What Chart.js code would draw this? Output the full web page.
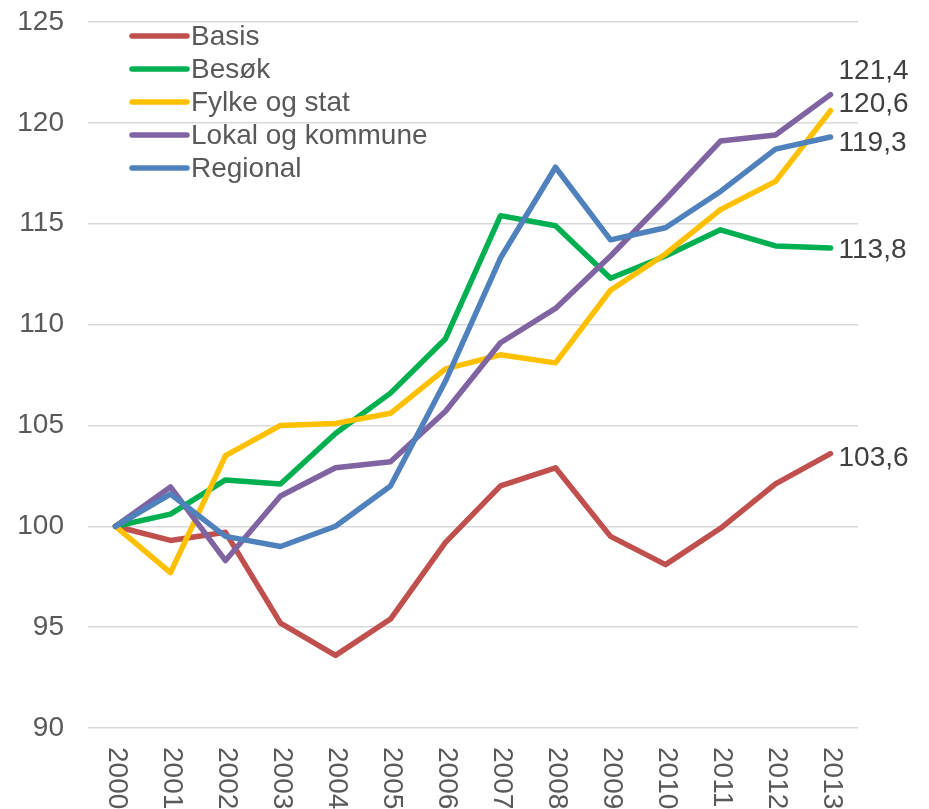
<!DOCTYPE html>
<html>
<head>
<meta charset="utf-8">
<script src="https://cdn.jsdelivr.net/npm/chart.js@4/dist/chart.umd.min.js"></script>
<style>
html,body{margin:0;padding:0;background:#fff;}
canvas{display:block;}
</style>
</head>
<body>
<canvas id="c" width="929" height="809"></canvas>
<script>
const years = ["2000","2001","2002","2003","2004","2005","2006","2007","2008","2009","2010","2011","2012","2013"];
const basis    = [100, 99.3, 99.7, 95.2, 93.6, 95.4, 99.2, 102.0, 102.9, 99.5, 98.1, 99.9, 102.1, 103.6];
const besok    = [100, 100.6, 102.3, 102.1, 104.6, 106.6, 109.3, 115.4, 114.9, 112.3, 113.4, 114.7, 113.9, 113.8];
const fylke    = [100, 97.7, 103.5, 105.0, 105.1, 105.6, 107.8, 108.5, 108.1, 111.7, 113.5, 115.7, 117.1, 120.6];
const lokal    = [100, 101.95, 98.3, 101.5, 102.9, 103.2, 105.7, 109.1, 110.8, 113.4, 116.2, 119.1, 119.4, 121.4];
const regional = [100, 101.6, 99.5, 99.0, 100.0, 102.0, 107.2, 113.3, 117.8, 114.2, 114.8, 116.6, 118.7, 119.3];
const seriesNames = ["Basis", "Besøk", "Fylke og stat", "Lokal og kommune", "Regional"];
const yTicks = [90, 95, 100, 105, 110, 115, 120, 125];

const colors = ["#C0504D", "#00B050", "#FFC000", "#8064A2", "#4F81BD"];
const seriesData = [basis, besok, fylke, lokal, regional];
const FONT = "'Liberation Sans', Arial, sans-serif";

const endLabelNudge = [4, 1, -7, -24, 5]; // vertical nudges (px) for end labels

const overlay = {
  id: 'overlay',
  afterDraw(chart) {
    const ctx = chart.ctx;
    const xs = chart.scales.x, ys = chart.scales.y;
    ctx.save();
    // x labels rotated clockwise
    ctx.fillStyle = '#595959';
    ctx.font = '28px ' + FONT;
    ctx.textAlign = 'left';
    ctx.textBaseline = 'middle';
    years.forEach((lab, i) => {
      const x = xs.getPixelForValue(i);
      ctx.save();
      ctx.translate(x + 1, ys.bottom + 19);
      ctx.rotate(Math.PI / 2);
      ctx.fillText(lab, 0, 0);
      ctx.restore();
    });
    // legend inside plot
    const lx0 = 132, lx1 = 187, ly0 = 36, step = 33;
    chart.data.datasets.forEach((ds, i) => {
      const y = ly0 + i * step;
      ctx.strokeStyle = ds.borderColor;
      ctx.lineWidth = 5.5;
      ctx.lineCap = 'round';
      ctx.beginPath();
      ctx.moveTo(lx0, y);
      ctx.lineTo(lx1, y);
      ctx.stroke();
      ctx.fillStyle = '#595959';
      ctx.font = '28px ' + FONT;
      ctx.textAlign = 'left';
      ctx.textBaseline = 'middle';
      ctx.fillText(ds.label, lx1 + 4, y + 1);
    });
    // end value labels
    ctx.fillStyle = '#404040';
    ctx.font = '28px ' + FONT;
    ctx.textAlign = 'left';
    ctx.textBaseline = 'middle';
    chart.data.datasets.forEach((ds, i) => {
      const last = ds.data.length - 1;
      const v = ds.data[last];
      const x = xs.getPixelForValue(last);
      const y = ys.getPixelForValue(v);
      ctx.fillText(v.toFixed(1).replace('.', ','), x + 8, y + endLabelNudge[i] + 1);
    });
    ctx.restore();
  }
};

new Chart(document.getElementById('c'), {
  type: 'line',
  data: {
    labels: years,
    datasets: seriesNames.map((name, i) => ({
      label: name,
      data: seriesData[i],
      borderColor: colors[i],
      backgroundColor: colors[i],
      borderWidth: 5.5,
      pointRadius: 0,
      tension: 0,
      borderCapStyle: 'round',
      borderJoinStyle: 'round',
      fill: false,
      order: 5 - i
    }))
  },
  options: {
    responsive: false,
    animation: false,
    devicePixelRatio: 1,
    layout: { padding: { top: 22, right: 71, bottom: 0, left: 0 } },
    plugins: { legend: { display: false }, tooltip: { enabled: false } },
    scales: {
      x: {
        offset: true,
        grid: { display: false, drawTicks: false },
        border: { display: false },
        ticks: { display: false },
        afterFit(scale) { scale.height = 81; scale.paddingLeft = 0; scale.paddingRight = 0; }
      },
      y: {
        min: 90, max: 125,
        afterBuildTicks(scale) { scale.ticks = yTicks.map(v => ({ value: v })); },
        grid: { color: '#D9D9D9', lineWidth: 1.5, drawTicks: false },
        border: { display: false },
        ticks: {
          color: '#595959',
          font: { family: FONT, size: 28 },
          padding: 24
        },
        afterFit(scale) { scale.width = 88; scale.paddingTop = 0; scale.paddingBottom = 0; }
      }
    }
  },
  plugins: [overlay]
});
</script>
</body>
</html>
